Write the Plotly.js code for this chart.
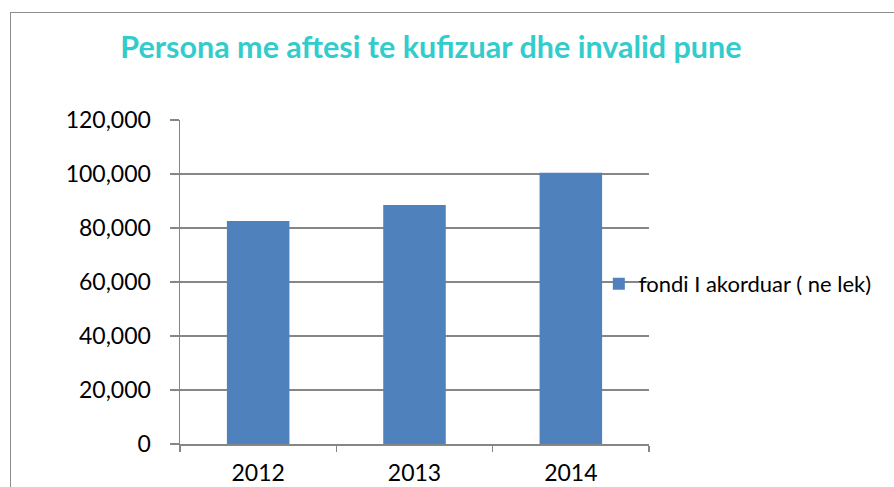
<!DOCTYPE html>
<html>
<head>
<meta charset="utf-8">
<script src="https://cdn.plot.ly/plotly-3.0.1.min.js"></script>
<style>
html,body{margin:0;padding:0;background:#fff;}
#wrap{position:relative;width:894px;height:487px;overflow:hidden;}
#chart{width:894px;height:487px;}
#frame{position:absolute;left:10px;top:12px;width:900px;height:500px;border:1px solid #8c8c8c;pointer-events:none;box-sizing:border-box;}
</style>
</head>
<body>
<div id="wrap">
<div id="chart"></div>
<div id="frame"></div>
</div>
<script>
const categories = ["2012", "2013", "2014"];
const values = [82600, 88500, 100500];
const seriesName = "fondi I akorduar ( ne lek)";
const chartTitle = "Persona me aftesi te kufizuar dhe invalid pune";
const yTickValues = [0, 20000, 40000, 60000, 80000, 100000, 120000];
const yTickLabels = ["0", "20,000", "40,000", "60,000", "80,000", "100,000", "120,000"];

const trace = {
  type: "bar",
  x: categories,
  y: values,
  name: seriesName,
  marker: {color: "#4F81BD"},
  showlegend: true,
  hoverinfo: "x+y"
};

const layout = {
  width: 894,
  height: 487,
  margin: {l: 180, r: 245, t: 120, b: 43},
  paper_bgcolor: "rgba(0,0,0,0)",
  plot_bgcolor: "#fff",
  font: {family: "Lato, 'Open Sans', sans-serif", color: "#000", size: 23},
  title: {
    text: chartTitle,
    x: 0.482, xanchor: "center", xref: "container",
    y: 0.903, yanchor: "middle", yref: "container",
    font: {family: "Lato, 'Open Sans', sans-serif", size: 30.5, color: "#33CCCC", weight: "bold"}
  },
  bargap: 0.6,
  xaxis: {
    type: "category",
    showline: true, linecolor: "#868686", linewidth: 1.5,
    ticks: "outside", tickson: "boundaries", ticklen: 6, tickcolor: "#868686", tickwidth: 1.5,
    ticklabelstandoff: 8,
    tickfont: {size: 23},
    showgrid: false, zeroline: false
  },
  yaxis: {
    range: [0, 120000],
    tickvals: yTickValues, ticktext: yTickLabels,
    showline: true, linecolor: "#868686", linewidth: 1.5,
    ticks: "outside", ticklen: 9, tickcolor: "#868686", tickwidth: 1.5,
    ticklabelstandoff: 14,
    tickfont: {size: 23},
    showgrid: true, gridcolor: "#868686", gridwidth: 1.5,
    zeroline: false
  },
  showlegend: true,
  legend: {
    x: 0.893, xanchor: "left", xref: "paper",
    y: 0.494, yanchor: "middle",
    bgcolor: "rgba(255,255,255,0)",
    font: {size: 22},
    itemwidth: 30
  }
};

Plotly.newPlot("chart", [trace], layout, {displayModeBar: false, staticPlot: true});
</script>
</body>
</html>
